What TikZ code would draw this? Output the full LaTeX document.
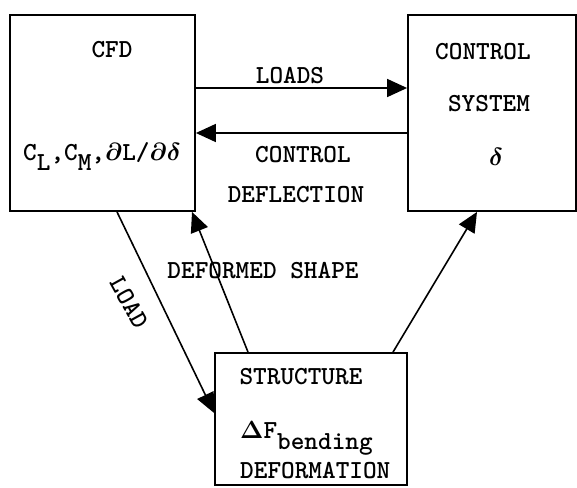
\documentclass[tikz,border=0pt]{standalone}
\usetikzlibrary{arrows.meta}
\begin{document}
\begin{tikzpicture}[x=1pt,y=-1pt,
  box/.style={draw,line width=1.8pt,inner sep=0pt},
  flow/.style={line width=1.6pt,-{Triangle[length=20pt,width=18pt]}},
  lbl/.style={font=\fontsize{26}{30}\selectfont\ttfamily\bfseries\boldmath,inner sep=0pt}]
\useasboundingbox (0,0) rectangle (577,487);
% boxes
\node[box,minimum width=185pt,minimum height=196pt] (cfd) at (102.5,113) {};
\node[box,minimum width=168pt,minimum height=196pt] (ctrl) at (492,113) {};
\node[box,minimum width=192pt,minimum height=132pt] (str) at (311,419) {};
% helper coordinates
\coordinate (yA) at (0,88);
\coordinate (yB) at (0,133);
\coordinate (xA) at (117,0);
\coordinate (xB) at (192,0);
\coordinate (xC) at (248,0);
\coordinate (xD) at (393,0);
\coordinate (xE) at (477,0);
\coordinate (yC) at (0,413);
% connectors
\draw[flow] (cfd.east |- yA) -- (ctrl.west |- yA);
\draw[flow] (ctrl.west |- yB) -- (cfd.east |- yB);
\draw[flow] (cfd.south -| xA) -- (str.west |- yC);
\draw[flow] (str.north -| xC) -- (cfd.south -| xB);
\draw[flow] (str.north -| xD) -- (ctrl.south -| xE);
% texts in CFD
\node[lbl] (t1) at (112,50) {CFD};
\node[lbl,anchor=base west] (t2) at (23,160) {C\raisebox{-0.4em}{L},C\raisebox{-0.4em}{M},$\partial$L/$\partial\delta$};
% texts in control
\node[lbl] (t3) at (483,52) {CONTROL};
\node[lbl] (t4) at (489,104) {SYSTEM};
\node[lbl] (t5) at (496,157) {$\delta$};
% arrow labels
\node[lbl] (t6) at (290,76) {LOADS};
\node[lbl] (t7) at (303,155) {CONTROL};
\node[lbl] (t8) at (296,195) {DEFLECTION};
\node[lbl] (t9) at (263,271) {DEFORMED SHAPE};
\node[lbl] (t10) at (129,303) {\rotatebox{-61}{LOAD}};
% texts in structure
\node[lbl] (t11) at (301,377) {STRUCTURE};
\node[lbl,anchor=base west] (t12) at (240,438) {$\Delta$F\raisebox{-0.45em}{bending}};
\node[lbl,anchor=base west] (t13) at (240,478) {DEFORMATION};
\end{tikzpicture}
\end{document}
